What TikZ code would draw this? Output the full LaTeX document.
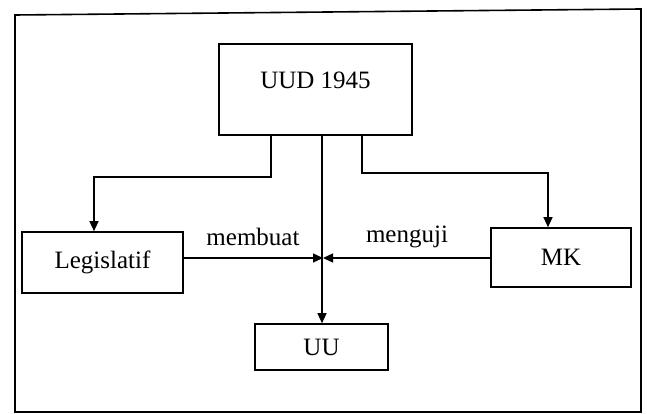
\documentclass[tikz,border=0pt]{standalone}
\usepackage{fontspec}
\setmainfont{Liberation Serif}
\usetikzlibrary{arrows.meta}
\tikzset{
  box/.style={draw, line width=1.6pt, rectangle, inner sep=0pt, font=\fontsize{25}{30}\selectfont},
  lbl/.style={inner sep=0pt, font=\fontsize{25}{30}\selectfont},
  arr/.style={line width=1.3pt, -{Triangle[length=10pt,width=9pt]}},
  conn/.style={line width=1.3pt}
}
\begin{document}
\begin{tikzpicture}[x=1pt,y=1pt]
\useasboundingbox (0,0) rectangle (647,-414);
% outer frame
\draw[line width=1.6pt] (15,-15) -- (641,-9) -- (641,-412) -- (15,-412) -- cycle;
% boxes
\node[box, minimum width=193pt, minimum height=91pt] (uud) at (315.5,-89.5) {};
\node[lbl] (uudt) at (315.5,-80) {UUD 1945};
\node[box, minimum width=161pt, minimum height=61pt] (leg) at (102.5,-262.5) {Legislatif};
\node[box, minimum width=140pt, minimum height=59pt] (mk) at (561,-257.5) {MK};
\node[box, minimum width=133pt, minimum height=46pt] (uu) at (321.5,-347) {UU};
% helper points
\coordinate (l1) at (271,-177);
\coordinate (l2) at (94,-177);
\coordinate (r1) at (362,-173);
\coordinate (r2) at (548,-173);
\coordinate (mid) at (322,-258);
% connectors
\draw[arr] (uud.south -| l1) -- (l1) -- (l2) -- (leg.north -| l2);
\draw[arr] (uud.south -| r1) -- (r1) -- (r2) -- (mk.north -| r2);
\draw[arr] (uud.south -| mid) -- (uu.north -| mid);
\draw[arr] (leg.east |- mid) -- ([xshift=1pt]mid);
\draw[arr] (mk.west |- mid) -- ([xshift=1pt]mid);
% labels
\node[lbl] (membuat) at (253,-237) {membuat};
\node[lbl] (menguji) at (407,-237) {menguji};
\end{tikzpicture}
\end{document}
